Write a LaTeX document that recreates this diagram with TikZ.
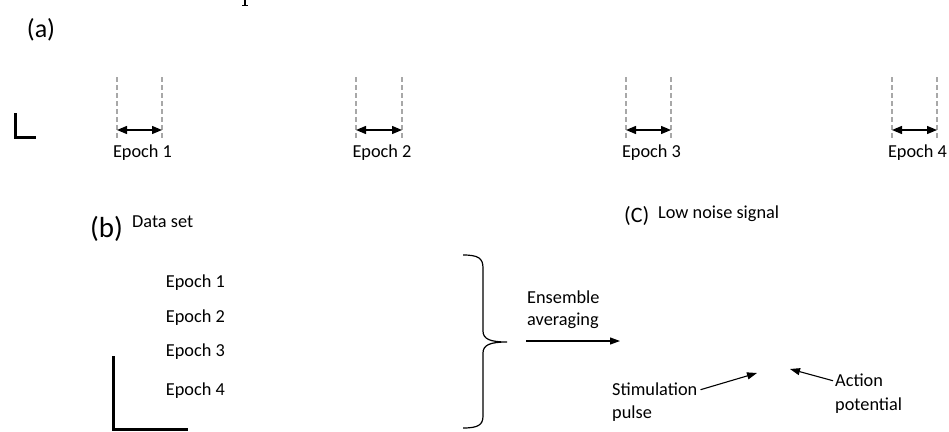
\documentclass[tikz,border=0pt]{standalone}
\usepackage{fontspec}
\setmainfont{Carlito}
\usetikzlibrary{arrows.meta}
\definecolor{dashgray}{HTML}{A8A8A8}
\tikzset{
  lbl/.style={inner sep=0pt, font=\fontsize{18.3}{22}\selectfont},
  panel/.style={inner sep=0pt, font=\fontsize{#1}{#1}\selectfont},
  guide/.style={draw=dashgray, line width=1.5pt, dash pattern=on 5pt off 3pt},
  span/.style={line width=1.3pt, {Triangle[length=10pt,width=8pt]}-{Triangle[length=10pt,width=8pt]}},
  pointer/.style={line width=1.1pt, -{Triangle[length=10pt,width=7pt]}},
  scalebar/.style={line width=3pt},
  bracestyle/.style={line width=1.2pt}
}
\begin{document}
\begin{tikzpicture}[x=1pt,y=-1pt]
\useasboundingbox (0,0) rectangle (949,431);

% clipped mark at the top
\draw[line width=1.6pt] (245,0) -- (245,5);
\draw[line width=1pt] (242,5.5) -- (248,5.5);

% (a) panel
\node[panel=26, anchor=base] (pa) at (41,37) {(a)};
\draw[scalebar] (15,113) -- (15,137) -- (36,137);

\foreach \i/\l/\r/\c in {1/117/162/142.5, 2/356/402/382, 3/626/671/651.5, 4/892/937/917.5}{
  \coordinate (gl\i) at (\l,77);
  \coordinate (gr\i) at (\r,77);
  \coordinate (bl\i) at (\l,138);
  \coordinate (br\i) at (\r,138);
  \coordinate (al\i) at (\l,130);
  \coordinate (ar\i) at (\r,130);
  \draw[guide] (gl\i) -- (bl\i);
  \draw[guide] (gr\i) -- (br\i);
  \draw[span] (al\i) -- (ar\i);
  \node[lbl, anchor=base] (ep\i) at (\c,157) {Epoch \i};
}

% (b) panel
\node[panel=29, anchor=base] (pb) at (106.5,237) {(b)};
\node[lbl, anchor=base west] (ds) at (132,227) {Data set};
\node[lbl, anchor=base east] (b1) at (225,287) {Epoch 1};
\node[lbl, anchor=base east] (b2) at (225,322) {Epoch 2};
\node[lbl, anchor=base east] (b3) at (225,356) {Epoch 3};
\node[lbl, anchor=base east] (b4) at (225,395) {Epoch 4};
\draw[scalebar] (113,356) -- (113,429) -- (188,429);

% brace
\draw[bracestyle] (463,255) .. controls (478,255) and (483,258) .. (483,268)
  -- (483,331) .. controls (483,339) and (490,342) .. (507,342)
  .. controls (490,342) and (483,345) .. (483,353)
  -- (483,416) .. controls (483,425) and (478,428) .. (463,428);

% ensemble averaging
\node[lbl, anchor=base west] (en1) at (527,303) {Ensemble};
\node[lbl, anchor=base west] (en2) at (527,325) {averaging};
\coordinate (ea) at (526,341);
\coordinate (eb) at (620,341);
\draw[pointer] (ea) -- (eb);

% (c) panel
\node[panel=22, anchor=base west] (pc) at (624,222) {(C)};
\node[lbl, anchor=base west] (lns) at (658,218) {Low noise signal};

\node[lbl, anchor=base west] (st1) at (612,395) {Stimulation};
\node[lbl, anchor=base west] (st2) at (612,418) {pulse};
\coordinate (sttip) at (757,373);
\draw[pointer] ([xshift=3pt,yshift=-1pt]st1.east) -- (sttip);

\node[lbl, anchor=base west] (ac1) at (835,386) {Action};
\node[lbl, anchor=base west] (ac2) at (835,410) {potential};
\coordinate (actip) at (790,369);
\draw[pointer] ([xshift=-2pt,yshift=-1pt]ac1.west) -- (actip);
\end{tikzpicture}
\end{document}
